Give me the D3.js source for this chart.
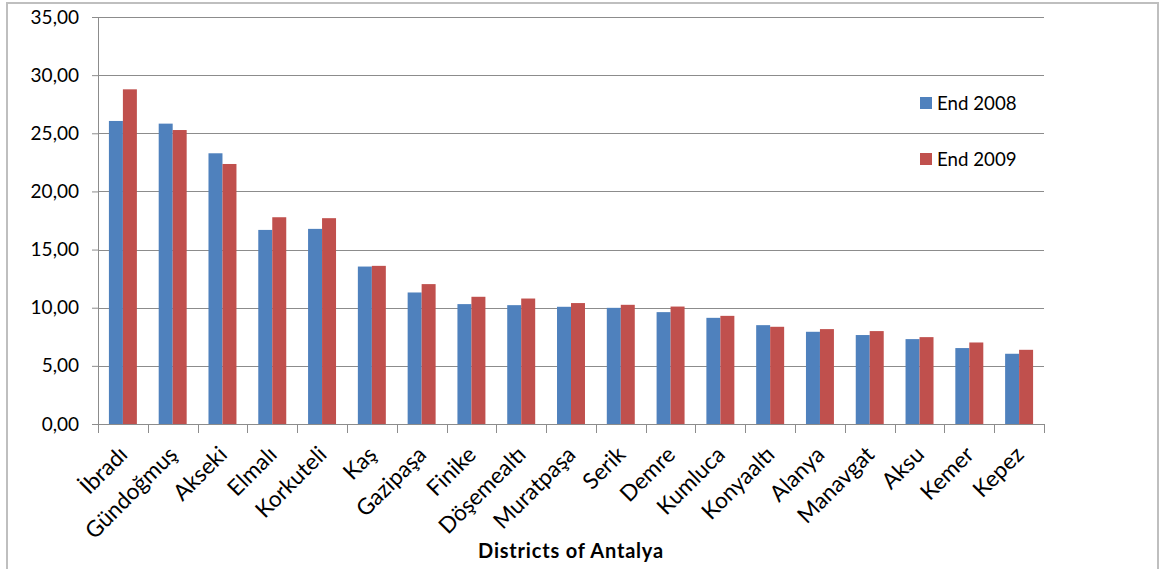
<!DOCTYPE html>
<html>
<head>
<meta charset="utf-8">
<script src="https://cdn.jsdelivr.net/npm/d3@7"></script>
<style>
  html, body { margin: 0; padding: 0; background: #fff; }
  svg { display: block; font-family: Lato, "Open Sans", sans-serif; }
</style>
</head>
<body>
<svg id="chart" width="1161" height="569"></svg>
<script>
// Districts of Antalya, values at end of 2008 and end of 2009
const districts = ["İbradı", "Gündoğmuş", "Akseki", "Elmalı", "Korkuteli", "Kaş", "Gazipaşa",
  "Finike", "Döşemealtı", "Muratpaşa", "Serik", "Demre", "Kumluca", "Konyaaltı", "Alanya",
  "Manavgat", "Aksu", "Kemer", "Kepez"];
const end2008 = [26.06, 25.83, 23.28, 16.69, 16.78, 13.54, 11.31, 10.31, 10.22, 10.08, 9.99,
  9.62, 9.13, 8.50, 7.93, 7.65, 7.30, 6.53, 6.04];
const end2009 = [28.78, 25.28, 22.36, 17.78, 17.70, 13.60, 12.03, 10.94, 10.79, 10.40, 10.25,
  10.10, 9.30, 8.36, 8.16, 7.99, 7.47, 7.01, 6.38];
const seriesNames = ["End 2008", "End 2009"];
const seriesColors = ["#4F81BD", "#C0504D"];
const yTicks = [0, 5, 10, 15, 20, 25, 30, 35];
const axisTitle = "Districts of Antalya";

const svg = d3.select("#chart");
const plot = { left: 98, right: 1044, top: 17, bottom: 424 };

// chart-area frame
svg.append("rect")
  .attr("x", 7).attr("y", 3).attr("width", 1151).attr("height", 580)
  .attr("fill", "none").attr("stroke", "#BFBFBF").attr("stroke-width", 2);

const x = d3.scaleBand().domain(districts).range([plot.left, plot.right]).paddingInner(0).paddingOuter(0);
const inner = d3.scaleBand().domain([0, 1]).range([0, x.bandwidth()]).paddingInner(0).paddingOuter(0.78);
const y = d3.scaleLinear().domain([0, 35]).range([plot.bottom, plot.top]);

// horizontal gridlines
svg.append("g").selectAll("line").data(yTicks.filter(d => d > 0)).join("line")
  .attr("x1", plot.left).attr("x2", plot.right)
  .attr("y1", d => Math.round(y(d)) + 0.5).attr("y2", d => Math.round(y(d)) + 0.5)
  .attr("stroke", "#8C8C8C").attr("stroke-width", 1);

// bars
const rows = districts.map((d, i) => ({ name: d, vals: [end2008[i], end2009[i]] }));
const groups = svg.append("g").selectAll("g").data(rows).join("g")
  .attr("transform", d => `translate(${x(d.name)},0)`);
groups.selectAll("rect").data(d => d.vals.map((v, k) => ({ v, k }))).join("rect")
  .attr("x", d => inner(d.k))
  .attr("width", inner.bandwidth())
  .attr("y", d => y(d.v))
  .attr("height", d => y(0) - y(d.v))
  .attr("fill", d => seriesColors[d.k]);

// y axis
const yAxis = svg.append("g")
  .attr("transform", `translate(${plot.left},0)`)
  .call(d3.axisLeft(y).tickValues(yTicks).tickSize(6).tickPadding(13)
    .tickFormat(d => d3.format(".2f")(d).replace(".", ",")));
yAxis.select(".domain").attr("stroke", "#8C8C8C");
yAxis.selectAll(".tick line").attr("stroke", "#8C8C8C");
yAxis.selectAll("text").attr("font-size", 19).attr("fill", "#000")
  .attr("font-family", "Lato, sans-serif");

// x axis with ticks at category boundaries
const xAxisG = svg.append("g");
xAxisG.append("line")
  .attr("x1", plot.left).attr("x2", plot.right)
  .attr("y1", plot.bottom + 0.5).attr("y2", plot.bottom + 0.5)
  .attr("stroke", "#8C8C8C");
const boundaries = districts.map(d => x(d)).concat([plot.right]);
xAxisG.selectAll("line.tk").data(boundaries).join("line").attr("class", "tk")
  .attr("x1", d => Math.round(d) + 0.5).attr("x2", d => Math.round(d) + 0.5)
  .attr("y1", plot.bottom).attr("y2", plot.bottom + 9)
  .attr("stroke", "#8C8C8C");
xAxisG.selectAll("text").data(districts).join("text")
  .attr("text-anchor", "end")
  .attr("font-size", 22.5)
  .attr("fill", "#000")
  .attr("transform", d => `translate(${x(d) + x.bandwidth() / 2 + 6},${plot.bottom + 32}) rotate(-45)`)
  .text(d => d);

// axis title
svg.append("text")
  .attr("x", 571).attr("y", 558)
  .attr("text-anchor", "middle")
  .attr("font-size", 20).attr("font-weight", "bold").attr("fill", "#000")
  .attr("letter-spacing", 0.8)
  .text(axisTitle);

// legend
const legend = svg.append("g").selectAll("g").data(seriesNames).join("g")
  .attr("transform", (d, i) => `translate(920,${97 + i * 56})`);
legend.append("rect").attr("width", 12).attr("height", 12)
  .attr("fill", (d, i) => seriesColors[i]);
legend.append("text").attr("x", 17).attr("y", 12.5)
  .attr("font-size", 18.7).attr("fill", "#000")
  .text(d => d);
</script>
</body>
</html>
